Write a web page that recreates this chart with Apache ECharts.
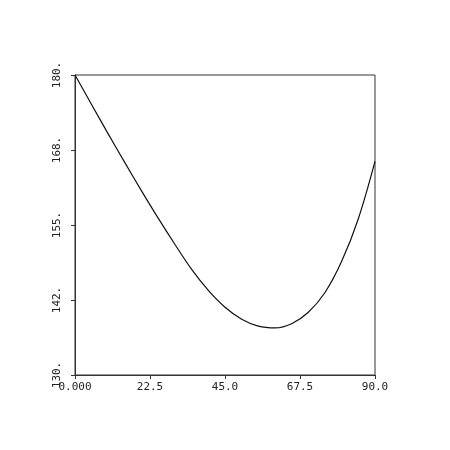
<!DOCTYPE html>
<html>
<head>
<meta charset="utf-8">
<script src="https://cdn.jsdelivr.net/npm/echarts@6/dist/echarts.min.js"></script>
<style>html,body{margin:0;padding:0;background:#fff}#c{width:450px;height:450px}</style>
</head>
<body>
<div id="c"></div>
<script>
const xValues = [0,5,10,15,20,25,30,35,40,45,50,55,60,65,70,75,80,85,90];
const yValues = [180,175.05,170.15,165.35,160.65,156.1,151.75,147.6,144.1,141.3,139.3,138.15,137.85,138.55,140.45,143.75,148.95,156.05,165.6];
const xTickLabels = {0:'0.000',22.5:'22.5',45:'45.0',67.5:'67.5',90:'90.0'};
const yTickLabels = {130:'130.',142.5:'142.',155:'155.',167.5:'168.',180:'180.'};

const chart = echarts.init(document.getElementById('c'), null, {renderer:'canvas'});
const font = 'DejaVu Sans Mono';
chart.setOption({
  animation:false,
  grid:{left:75,top:75,width:300,height:300,show:true,borderColor:'#333',borderWidth:1,backgroundColor:'transparent'},
  xAxis:{type:'value',min:0,max:90,interval:22.5,
    axisLine:{show:true,onZero:false,lineStyle:{color:'#333',width:1}},
    axisTick:{show:true,inside:false,length:4,lineStyle:{color:'#333'}},
    splitLine:{show:false},
    axisLabel:{margin:7,fontFamily:font,fontSize:11,color:'#222',formatter:v=>xTickLabels[v]!==undefined?xTickLabels[v]:''}
  },
  yAxis:{type:'value',min:130,max:180,interval:12.5,
    axisLine:{show:true,onZero:false,lineStyle:{color:'#333',width:1}},
    axisTick:{show:true,inside:false,length:4,lineStyle:{color:'#333'}},
    splitLine:{show:false},
    axisLabel:{margin:12,rotate:90,fontFamily:font,fontSize:11,color:'#222',formatter:v=>yTickLabels[v]!==undefined?yTickLabels[v]:''}
  },
  series:[{type:'line',data:xValues.map((x,i)=>[x,yValues[i]]),smooth:0.35,showSymbol:false,
    lineStyle:{color:'#111',width:1.2}}]
});
</script>
</body>
</html>
